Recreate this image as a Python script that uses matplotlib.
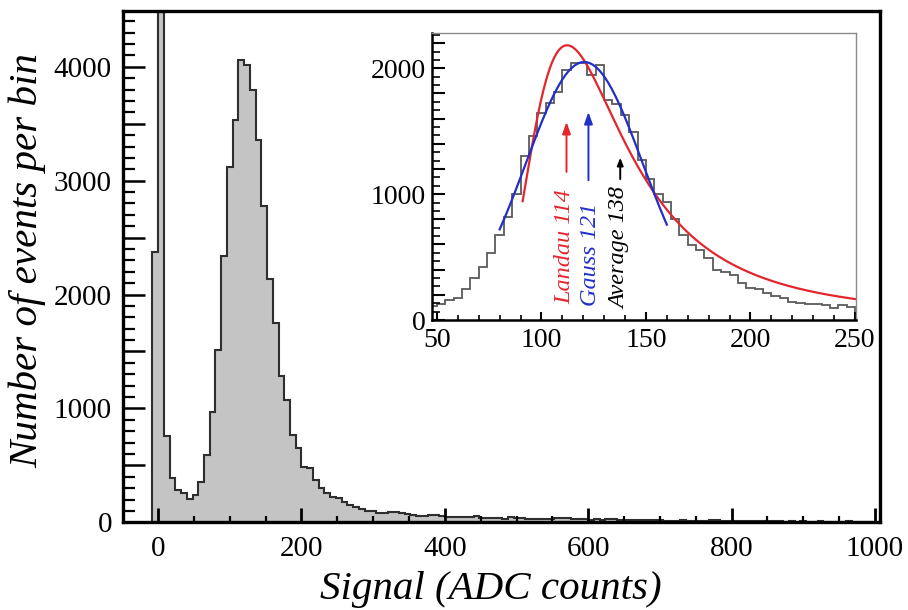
import numpy as np
import matplotlib.pyplot as plt
from matplotlib.ticker import MultipleLocator, FuncFormatter

plt.rcParams['font.family'] = ['Liberation Serif', 'DejaVu Serif']

# main spectrum, 8 ADC counts per bin starting at -8 (bin 0..8 is the pedestal)
main_edges = np.arange(-8, 1001, 8)
main_counts = [2370, 30000, 761, 389, 283, 257, 202, 240, 357, 589,
               972, 1510, 2340, 3116, 3532, 4061, 4015, 3798, 3357, 2777,
               2137, 1751, 1283, 1072, 770, 649, 489, 477, 368, 302,
               254, 226, 211, 175, 151, 133, 121, 103, 97,
               85, 82, 92, 90, 80, 76, 60, 58, 56, 68, 60, 55,
               48, 47, 45, 46, 44, 55, 38, 36, 34, 35, 33, 44,
               42, 40, 32, 30, 31, 29, 33, 38, 36, 37, 28, 25,
               27, 24, 26, 22, 30, 28, 20, 17, 18, 16, 19, 22,
               17, 20, 14, 15, 13, 16, 14, 12, 15, 13, 24, 22,
               11, 10, 12, 9, 11, 8, 10, 15, 14, 9, 8, 7,
               9, 7, 8, 6, 7, 9, 6, 5, 7, 6, 8, 5,
               6, 5, 7]

# zoom on the signal peak, 4 ADC counts per bin
inset_edges = np.array([46] + list(range(50, 251, 4)))
inset_counts = [112, 125, 159, 177, 243, 331, 423, 529, 675, 820, 1005,
                1302, 1460, 1646, 1725, 1812, 1989, 2042, 2042, 1944, 2024,
                1746, 1720, 1627, 1495, 1270, 1124, 1005, 939, 799, 675,
                595, 556, 489, 397, 384, 357, 291, 251, 243, 217,
                190, 172, 146, 138, 127, 127, 119, 93, 119, 106]

# fit results
landau_mpv, landau_sigma, landau_peak = 115.5, 14.5, 2183
landau_range = (91, 250)
gauss_mean, gauss_sigma, gauss_peak = 120.5, 28.0, 2050
gauss_range = (80, 160)

marker_labels = ['Landau 114', 'Gauss 121', 'Average 138']
marker_colors = ['#e3262d', '#2030c8', 'black']


def landau(x, mpv, sigma):
    lam = (np.asarray(x) - mpv) / sigma
    t = np.linspace(1e-8, 40, 20000)
    f = np.exp(-t * np.log(t) - np.outer(lam, t)) * np.sin(np.pi * t)
    return np.trapezoid(f, t, axis=1) / np.pi


fig = plt.figure(figsize=(9.08, 6.10), dpi=100)

# ---- main plot
ax = fig.add_axes([123 / 908, 1 - 522.3 / 610, 757 / 908, 511.3 / 610])
ax.stairs(main_counts, main_edges, fill=True, color='#c4c4c4', lw=0)
ax.stairs(main_counts, main_edges, color='#2e2e2e', lw=1.5)
ax.set_xlim(-49, 1007)
ax.set_ylim(0, 4490)
for s in ax.spines.values():
    s.set_linewidth(2.4)
ax.xaxis.set_major_locator(MultipleLocator(200))
ax.xaxis.set_minor_locator(MultipleLocator(50))
ax.yaxis.set_major_locator(MultipleLocator(500))
ax.yaxis.set_minor_locator(MultipleLocator(100))
ax.yaxis.set_major_formatter(FuncFormatter(lambda v, p: '%d' % v if v % 1000 == 0 else ''))
ax.tick_params(axis='x', which='major', direction='in', length=10, width=2, labelsize=21, pad=10)
ax.tick_params(axis='x', which='minor', direction='in', length=4.5, width=1.6)
ax.tick_params(axis='y', which='major', direction='in', length=16, width=1.8, labelsize=21, pad=8)
ax.tick_params(axis='y', which='minor', direction='in', length=8.5, width=1.6)

fig.text(28 / 908, 1 - 261 / 610, 'Number of events per bin', rotation=90,
         ha='center', va='center', fontsize=29.5, style='italic')
fig.text(491 / 908, 1 - 590 / 610, 'Signal (ADC counts)',
         ha='center', va='center', fontsize=29.5, style='italic')

# ---- inset
ins = fig.add_axes([431.7 / 908, 1 - 320 / 610, 424.3 / 908, 287.3 / 610])
ins.set_facecolor('white')
ins.stairs(inset_counts, inset_edges, color='#5a5a5a', lw=1.3)

xl = np.linspace(landau_range[0], landau_range[1], 400)
yl = landau(xl, landau_mpv, landau_sigma)
ins.plot(xl, yl / yl.max() * landau_peak, color=marker_colors[0], lw=1.6)

xg = np.linspace(gauss_range[0], gauss_range[1], 300)
ins.plot(xg, gauss_peak * np.exp(-0.5 * ((xg - gauss_mean) / gauss_sigma) ** 2),
         color=marker_colors[1], lw=1.6)

ins.set_xlim(47.5, 250.5)
ins.set_ylim(0, 2283)
ins.spines['left'].set_linewidth(1.8)
ins.spines['bottom'].set_linewidth(1.8)
for side in ['top', 'right']:
    ins.spines[side].set_color('#8a8a8a')
    ins.spines[side].set_linewidth(1.0)
ins.xaxis.set_major_locator(MultipleLocator(50))
ins.xaxis.set_minor_locator(MultipleLocator(10))
ins.yaxis.set_major_locator(MultipleLocator(200))
ins.yaxis.set_minor_locator(MultipleLocator(200 / 3))
ins.yaxis.set_major_formatter(FuncFormatter(lambda v, p: '%d' % v if v % 1000 == 0 else ''))
ins.tick_params(axis='x', which='major', direction='in', length=6, width=1.5, labelsize=20, pad=6)
ins.tick_params(axis='x', which='minor', direction='in', length=3.5, width=1.2)
ins.tick_params(axis='y', which='major', direction='in', length=9, width=1.5, labelsize=20, pad=4)
ins.tick_params(axis='y', which='minor', direction='in', length=5.5, width=1.2)

# labels and arrows for the peak positions
text_x = [111.3, 123.3, 137.7]
text_y = [128, 115, 90]
arrow_x = [112, 122.5, 137.7]
arrow_from = [1177, 1111, 1120]
arrow_to = [1574, 1653, 1290]
head = ['0.7,head_width=0.25', '0.7,head_width=0.25', '0.45,head_width=0.18']
for lab, c, tx, ty, axx, a0, a1, hd in zip(marker_labels, marker_colors, text_x, text_y,
                                             arrow_x, arrow_from, arrow_to, head):
    ins.text(tx, ty, lab, rotation=90, ha='center', va='bottom', color=c,
             fontsize=17.5, style='italic')
    ins.annotate('', xy=(axx, a1), xytext=(axx, a0),
                 arrowprops=dict(arrowstyle='-|>,head_length=' + hd,
                                 color=c, lw=1.4, shrinkA=0, shrinkB=0))

fig.savefig('out.png', dpi=100)
